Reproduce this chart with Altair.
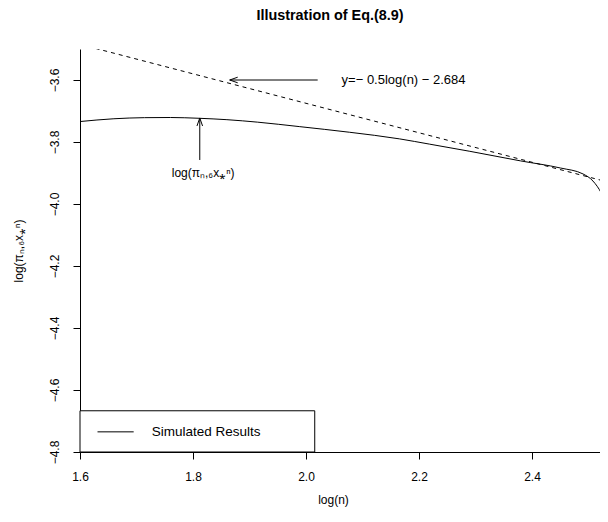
import altair as alt
import pandas as pd

# ---- data ----
curve_x = [1.600, 1.660, 1.714, 1.760, 1.811, 1.860, 1.9145, 1.989, 2.0774, 2.1658, 2.219,
           2.290, 2.380, 2.4507, 2.4903, 2.508, 2.5228, 2.5305, 2.5335, 2.536]
curve_y = [-3.734, -3.725, -3.7215, -3.721, -3.7235, -3.728, -3.736, -3.7505, -3.7686, -3.790, -3.807,
           -3.830, -3.861, -3.884, -3.903, -3.926, -3.965, -3.995, -4.040, -4.130]

fit_x = [1.60, 2.534]
fit_y = [-3.485, -3.929]

x_ticks = [1.6, 1.8, 2.0, 2.2, 2.4]
y_ticks = [-4.8, -4.6, -4.4, -4.2, -4.0, -3.8, -3.6]

# annotations
fit_label = "y=\u2212 0.5log(n) \u2212 2.684"
curve_label = "log(\u03c0\u2099,\u2086x\u204e\u207f)"
arrow1_x = [1.865, 2.0207]
arrow1_y = [-3.600, -3.600]
label1_xy = [2.063, -3.600]
arrow2_x = [1.812, 1.812]
arrow2_y = [-3.858, -3.7225]
label2_xy = [1.818, -3.900]
legend_box = [1.600, 2.0155, -4.800, -4.667]
legend_line_x = [1.631, 1.695]
legend_line_y = [-4.735, -4.735]
legend_text_xy = [1.727, -4.735]
legend_label = "Simulated Results"

FONT = "Liberation Sans"
xs = alt.Scale(domain=[1.6, 2.5204], nice=False, zero=False)
ys = alt.Scale(domain=[-4.8, -3.5], nice=False, zero=False)

curve_df = pd.DataFrame({"x": curve_x, "y": curve_y})
fit_df = pd.DataFrame({"x": fit_x, "y": fit_y})

base_x = alt.X("x:Q", scale=xs, title="log(n)",
               axis=alt.Axis(values=x_ticks, format=".1f", titleX=253, titlePadding=12,
                             labelFlush=False))
base_y = alt.Y("y:Q", scale=ys, title=curve_label,
               axis=alt.Axis(values=y_ticks, format=".1f", labelAngle=270, labelAlign="center",
                             labelBaseline="bottom", labelPadding=12, titlePadding=23,
                             labelFlush=False))

curve = alt.Chart(curve_df).mark_line(color="black", strokeWidth=1, clip=True,
                                      interpolate="monotone").encode(x=base_x, y=base_y)

fit = alt.Chart(fit_df).mark_line(color="black", strokeWidth=1, strokeDash=[4, 4], clip=True).encode(
    x=alt.X("x:Q", scale=xs), y=alt.Y("y:Q", scale=ys))

a1 = alt.Chart(pd.DataFrame({"x": arrow1_x, "y": arrow1_y})).mark_line(color="black", strokeWidth=1).encode(
    x=alt.X("x:Q", scale=xs), y=alt.Y("y:Q", scale=ys))
a1h = alt.Chart(pd.DataFrame({"x": [arrow1_x[0]], "y": [arrow1_y[0]]})).mark_point(
    shape="M0,0L2,-0.7M0,0L2,0.7", size=64, filled=False, color="black", strokeWidth=1, opacity=1).encode(
    x=alt.X("x:Q", scale=xs), y=alt.Y("y:Q", scale=ys))
a2 = alt.Chart(pd.DataFrame({"x": arrow2_x, "y": arrow2_y})).mark_line(color="black", strokeWidth=1).encode(
    x=alt.X("x:Q", scale=xs), y=alt.Y("y:Q", scale=ys))
a2h = alt.Chart(pd.DataFrame({"x": [arrow2_x[1]], "y": [arrow2_y[1]]})).mark_point(
    shape="M0,0L-0.7,2M0,0L0.7,2", size=64, filled=False, color="black", strokeWidth=1, opacity=1).encode(
    x=alt.X("x:Q", scale=xs), y=alt.Y("y:Q", scale=ys))

t1 = alt.Chart(pd.DataFrame({"x": [label1_xy[0]], "y": [label1_xy[1]], "t": [fit_label]})).mark_text(
    align="left", baseline="middle", font=FONT, fontSize=13, color="black").encode(
    x=alt.X("x:Q", scale=xs), y=alt.Y("y:Q", scale=ys), text="t:N")
t2 = alt.Chart(pd.DataFrame({"x": [label2_xy[0]], "y": [label2_xy[1]], "t": [curve_label]})).mark_text(
    align="center", baseline="middle", font=FONT, fontSize=12, color="black").encode(
    x=alt.X("x:Q", scale=xs), y=alt.Y("y:Q", scale=ys), text="t:N")

box = alt.Chart(pd.DataFrame({"x": [legend_box[0]], "x2": [legend_box[1]],
                              "y": [legend_box[2]], "y2": [legend_box[3]]})).mark_rect(
    fill="white", stroke="black", strokeWidth=1).encode(
    x=alt.X("x:Q", scale=xs), x2="x2:Q", y=alt.Y("y:Q", scale=ys), y2="y2:Q")
lline = alt.Chart(pd.DataFrame({"x": legend_line_x, "y": legend_line_y})).mark_line(
    color="black", strokeWidth=1).encode(x=alt.X("x:Q", scale=xs), y=alt.Y("y:Q", scale=ys))
ltext = alt.Chart(pd.DataFrame({"x": [legend_text_xy[0]], "y": [legend_text_xy[1]], "t": [legend_label]})).mark_text(
    align="left", baseline="middle", font=FONT, fontSize=13.5, color="black").encode(
    x=alt.X("x:Q", scale=xs), y=alt.Y("y:Q", scale=ys), text="t:N")

chart = alt.layer(curve, fit, a1, a1h, a2, a2h, t1, t2, box, lline, ltext).properties(
    width=520, height=403,
    autosize=alt.AutoSizeParams(type="none"),
    padding={"left": 72, "top": 41, "right": 0, "bottom": 56},
    title=alt.TitleParams("Illustration of Eq.(8.9)", font=FONT, fontSize=14.4, fontWeight="bold",
                          anchor="middle", dx=-10, offset=26, color="black"),
).configure_view(stroke=None).configure_axis(
    grid=False, domainColor="black", tickColor="black", tickSize=7, labelColor="black",
    labelFont=FONT, labelFontSize=12, titleFont=FONT, titleFontSize=12, titleFontWeight="normal",
    titleColor="black", labelPadding=12
)

chart.save("out.html", embed_options={"renderer": "svg", "actions": False})
